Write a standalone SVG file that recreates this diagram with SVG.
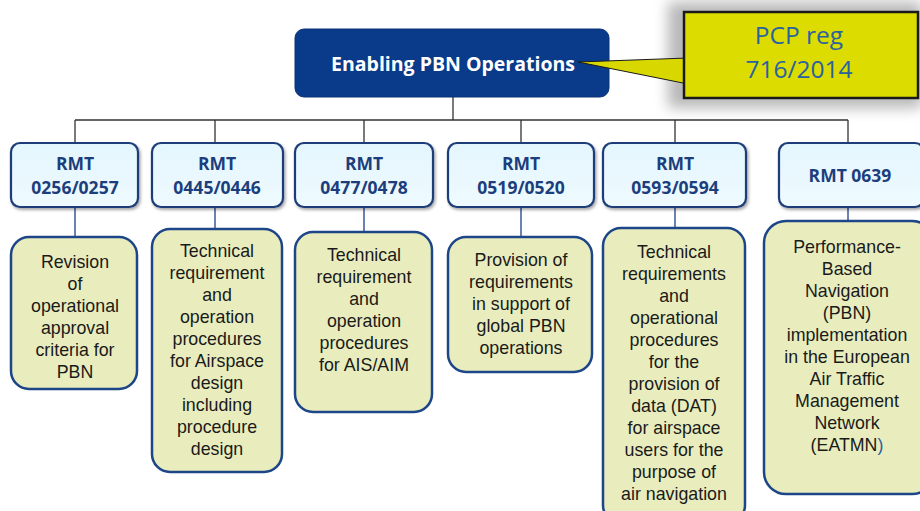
<svg xmlns="http://www.w3.org/2000/svg" width="920" height="511" viewBox="0 0 920 511">
<defs>
<linearGradient id="rmtg" x1="0" y1="0" x2="0" y2="1">
<stop offset="0" stop-color="#e4f6fd"/><stop offset="1" stop-color="#eefaff"/>
</linearGradient>
<filter id="sh" x="-20%" y="-30%" width="140%" height="160%">
<feGaussianBlur stdDeviation="7"/>
</filter>
<filter id="ds" x="-10%" y="-10%" width="130%" height="140%">
<feDropShadow dx="1.5" dy="2" stdDeviation="1.5" flood-color="#000" flood-opacity="0.35"/>
</filter>
</defs>
<style>
.rmt{fill:url(#rmtg);stroke:#1b3c78;stroke-width:2.2;filter:url(#ds)}
.rt{font-family:"Open Sans",sans-serif;font-weight:bold;font-size:17.5px;fill:#1c3e7c;text-anchor:middle}
.desc{fill:#e9edbd;stroke:#1d4688;stroke-width:2.5}
.dt{font-family:"Liberation Sans",Arial,sans-serif;font-size:17.8px;fill:#1a1a1a;text-anchor:middle}
.c1{stroke:#333;stroke-width:1.3;fill:none}
.c2{stroke:#3a5a9c;stroke-width:1.5;fill:none}
</style>
<rect width="920" height="511" fill="#fff"/>

<g id="connectors">
<path class="c1" d="M453 97V120M75 120H848M75 120V143M215 120V143M364 120V143M521 120V143M675 120V143M848 120V143"/>
<path class="c2" d="M75 207V237M215 207V228M364 207V232M521 207V237M675 207V228M848 207V221"/>
</g>

<g id="top">
<rect x="295" y="29" width="314" height="68" rx="9" fill="#0a3a8a" stroke="#0a3274" stroke-width="1"/>
<text x="453" y="71" font-family="Open Sans,sans-serif" font-weight="bold" font-size="19.5" fill="#fff" text-anchor="middle">Enabling PBN Operations</text>
</g>

<g id="callout">
<rect x="668" y="2" width="254" height="106" fill="#888" opacity="0.6" filter="url(#sh)"/>
<polygon points="578,62 688,58 688,84" fill="#d8d800" stroke="#1a1a1a" stroke-width="1"/>
<rect x="684" y="12" width="234" height="86" fill="#dcdc00" stroke="#1a1a1a" stroke-width="2.5"/>
<rect x="686.5" y="59" width="4" height="24" fill="#dcdc00"/>
<text x="799" y="44" font-family="Open Sans,sans-serif" font-size="24.5" fill="#2a62a0" text-anchor="middle">PCP reg</text>
<text x="799" y="78" font-family="Open Sans,sans-serif" font-size="24.5" fill="#2a62a0" text-anchor="middle">716/2014</text>
</g>

<g id="rmt1"><rect class="rmt" x="11" y="143" width="127" height="64" rx="9"/>
<text class="rt" x="75" y="170">RMT</text><text class="rt" x="75" y="194">0256/0257</text></g>
<g id="rmt2"><rect class="rmt" x="152" y="143" width="131" height="64" rx="9"/>
<text class="rt" x="217" y="170">RMT</text><text class="rt" x="217" y="194">0445/0446</text></g>
<g id="rmt3"><rect class="rmt" x="295" y="143" width="138" height="64" rx="9"/>
<text class="rt" x="364" y="170">RMT</text><text class="rt" x="364" y="194">0477/0478</text></g>
<g id="rmt4"><rect class="rmt" x="448" y="143" width="146" height="64" rx="9"/>
<text class="rt" x="521" y="170">RMT</text><text class="rt" x="521" y="194">0519/0520</text></g>
<g id="rmt5"><rect class="rmt" x="603" y="143" width="143" height="64" rx="9"/>
<text class="rt" x="675" y="170">RMT</text><text class="rt" x="675" y="194">0593/0594</text></g>
<g id="rmt6"><rect class="rmt" x="779" y="143" width="145" height="64" rx="9"/>
<text class="rt" x="850" y="182">RMT 0639</text></g>

<g id="d1"><rect class="desc" x="11" y="237" width="126" height="152" rx="18"/>
<text class="dt" x="75"><tspan x="75" y="268">Revision</tspan><tspan x="75" y="290">of</tspan><tspan x="75" y="312">operational</tspan><tspan x="75" y="334">approval</tspan><tspan x="75" y="356">criteria for</tspan><tspan x="75" y="378">PBN</tspan></text></g>

<g id="d2"><rect class="desc" x="152" y="229" width="130" height="243" rx="18"/>
<text class="dt"><tspan x="217" y="257">Technical</tspan><tspan x="217" y="279">requirement</tspan><tspan x="217" y="301">and</tspan><tspan x="217" y="323">operation</tspan><tspan x="217" y="345">procedures</tspan><tspan x="217" y="367">for Airspace</tspan><tspan x="217" y="389">design</tspan><tspan x="217" y="411">including</tspan><tspan x="217" y="433">procedure</tspan><tspan x="217" y="455">design</tspan></text></g>

<g id="d3"><rect class="desc" x="295" y="232" width="137" height="180" rx="18"/>
<text class="dt"><tspan x="364" y="261">Technical</tspan><tspan x="364" y="283">requirement</tspan><tspan x="364" y="305">and</tspan><tspan x="364" y="327">operation</tspan><tspan x="364" y="349">procedures</tspan><tspan x="364" y="371">for AIS/AIM</tspan></text></g>

<g id="d4"><rect class="desc" x="448" y="237" width="144" height="135" rx="18"/>
<text class="dt"><tspan x="521" y="266">Provision of</tspan><tspan x="521" y="288">requirements</tspan><tspan x="521" y="310">in support of</tspan><tspan x="521" y="332">global PBN</tspan><tspan x="521" y="354">operations</tspan></text></g>

<g id="d5"><rect class="desc" x="603" y="228" width="142" height="295" rx="18"/>
<text class="dt"><tspan x="674" y="258">Technical</tspan><tspan x="674" y="280">requirements</tspan><tspan x="674" y="302">and</tspan><tspan x="674" y="324">operational</tspan><tspan x="674" y="346">procedures</tspan><tspan x="674" y="368">for the</tspan><tspan x="674" y="390">provision of</tspan><tspan x="674" y="412">data (DAT)</tspan><tspan x="674" y="434">for airspace</tspan><tspan x="674" y="456">users for the</tspan><tspan x="674" y="478">purpose of</tspan><tspan x="674" y="500">air navigation</tspan></text></g>

<g id="d6"><rect class="desc" x="764" y="221" width="170" height="273" rx="22"/>
<text class="dt"><tspan x="847" y="253">Performance-</tspan><tspan x="847" y="275">Based</tspan><tspan x="847" y="297">Navigation</tspan><tspan x="847" y="319">(PBN)</tspan><tspan x="847" y="341">implementation</tspan><tspan x="847" y="363">in the European</tspan><tspan x="847" y="385">Air Traffic</tspan><tspan x="847" y="407">Management</tspan><tspan x="847" y="429">Network</tspan><tspan x="847" y="451">(EATMN<tspan fill="#2a62a0">)</tspan></tspan></text></g>
</svg>
